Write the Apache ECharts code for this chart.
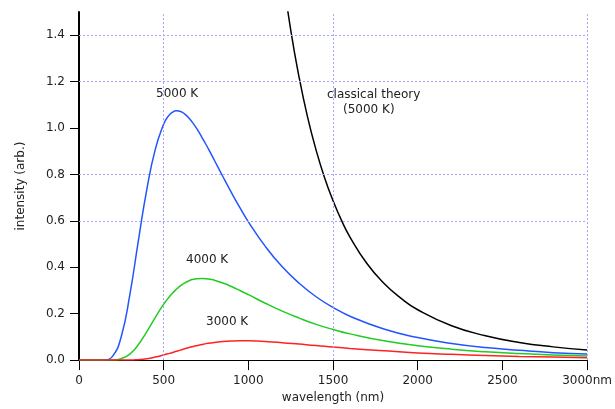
<!DOCTYPE html>
<html>
<head>
<meta charset="utf-8">
<script src="https://cdn.jsdelivr.net/npm/echarts@6/dist/echarts.min.js"></script>
<style>
  html, body { margin: 0; padding: 0; background: #fff; }
</style>
</head>
<body>
<div id="chart" style="width: 615px; height: 409px;"></div>
<script>
// wavelength (nm) for the three blackbody curves
const wavelengths = [0, 100, 150, 200, 250, 300, 350, 400, 450, 500, 525, 550, 575, 600, 625, 650, 675, 700, 725, 750, 775, 800,
  850, 900, 950, 1000, 1100, 1200, 1300, 1400, 1500, 1600, 1800, 2000, 2200, 2400, 2600, 2800, 3000];

const intensity5000 = [0, 0, 0.001, 0.018, 0.103, 0.281, 0.512, 0.734, 0.907, 1.017, 1.049, 1.067, 1.074, 1.071, 1.060, 1.042, 1.019, 0.992, 0.961, 0.929, 0.895, 0.860,
  0.790, 0.722, 0.657, 0.596, 0.490, 0.402, 0.331, 0.273, 0.227, 0.189, 0.134, 0.097, 0.072, 0.054, 0.042, 0.032, 0.026];

const intensity4000 = [0, 0, 0, 0, 0.006, 0.026, 0.066, 0.122, 0.183, 0.241, 0.265, 0.287, 0.305, 0.321, 0.333, 0.342, 0.348, 0.351, 0.352, 0.351, 0.348, 0.344,
  0.332, 0.317, 0.300, 0.282, 0.245, 0.211, 0.181, 0.154, 0.132, 0.113, 0.083, 0.062, 0.047, 0.036, 0.028, 0.022, 0.018];

const intensity3000 = [0, 0, 0, 0, 0, 0, 0.002, 0.006, 0.013, 0.022, 0.027, 0.032, 0.038, 0.043, 0.049, 0.054, 0.059, 0.063, 0.067, 0.071, 0.074, 0.076,
  0.080, 0.0825, 0.0835, 0.083, 0.080, 0.075, 0.069, 0.063, 0.056, 0.050, 0.040, 0.031, 0.025, 0.020, 0.016, 0.013, 0.010];

// classical theory (5000 K)
const classicalWavelengths = [1200, 1250, 1300, 1350, 1400, 1450, 1500, 1550, 1600, 1700, 1800, 1900, 2000, 2200, 2400, 2600, 2800, 3000];
const classicalIntensity = [1.676, 1.423, 1.217, 1.046, 0.905, 0.786, 0.687, 0.602, 0.530, 0.416, 0.331, 0.267, 0.217, 0.148, 0.105, 0.076, 0.057, 0.043];

const yTicks = [0, 0.2, 0.4, 0.6, 0.8, 1.0, 1.2, 1.4];
const yGridLines = [0.6, 0.8, 1.2, 1.4];
const xGridLines = [500, 1500, 3000];

function pairs(xs, ys) {
  let out = [];
  for (let i = 0; i < xs.length; i++) {
    out.push([xs[i], ys[i]]);
  }
  return out;
}

const chart = echarts.init(document.getElementById('chart'));
const font = 'DejaVu Sans';
const textColor = '#222';

const option = {
  animation: false,
  grid: {left: 79, right: 25, top: 12, bottom: 48},
  xAxis: {
    type: 'value',
    min: 0,
    max: 3000,
    interval: 500,
    name: 'wavelength (nm)',
    nameLocation: 'middle',
    nameGap: 31,
    nameTextStyle: {fontFamily: font, fontSize: 12, color: textColor},
    axisLine: {lineStyle: {color: '#000', width: 1}},
    axisTick: {length: 10, lineStyle: {color: '#000', width: 1}},
    axisLabel: {
      margin: 15,
      fontFamily: font,
      fontSize: 12,
      color: textColor,
      formatter: v => v === 3000 ? '3000nm' : String(v)
    },
    splitLine: {show: false}
  },
  yAxis: {
    type: 'value',
    min: 0,
    max: 1.5,
    interval: 0.2,
    name: 'intensity (arb.)',
    nameLocation: 'middle',
    nameGap: 52,
    nameTextStyle: {fontFamily: font, fontSize: 12, color: textColor},
    axisLine: {show: true, lineStyle: {color: '#000', width: 2}},
    axisTick: {show: true, length: 9, customValues: yTicks, lineStyle: {color: '#000', width: 1}},
    axisLabel: {
      margin: 14,
      fontFamily: font,
      fontSize: 12,
      color: textColor,
      customValues: yTicks,
      formatter: v => v.toFixed(1)
    },
    splitLine: {show: false}
  },
  graphic: [
    {type: 'text', left: 156, top: 88, style: {text: '5000 K', font: '12px DejaVu Sans', fill: textColor}},
    {type: 'text', left: 186, top: 254, style: {text: '4000 K', font: '12px DejaVu Sans', fill: textColor}},
    {type: 'text', left: 206, top: 316, style: {text: '3000 K', font: '12px DejaVu Sans', fill: textColor}},
    {type: 'text', left: 327, top: 89, style: {text: 'classical theory', font: '12px DejaVu Sans', fill: textColor}},
    {type: 'text', left: 343, top: 104, style: {text: '(5000 K)', font: '12px DejaVu Sans', fill: textColor}}
  ],
  series: [
    {
      name: 'grid',
      type: 'line',
      data: [],
      silent: true,
      markLine: {
        silent: true,
        symbol: 'none',
        label: {show: false},
        emphasis: {disabled: true},
        lineStyle: {color: '#a0a4ff', type: [2, 2], width: 1, opacity: 1},
        data: yGridLines.map(v => ({yAxis: v})).concat(xGridLines.map(v => ({xAxis: v})))
      }
    },
    {
      name: 'classical theory',
      type: 'line',
      data: pairs(classicalWavelengths, classicalIntensity),
      smooth: true,
      showSymbol: false,
      clip: true,
      lineStyle: {color: '#000', width: 1.5}
    },
    {
      name: '5000 K',
      type: 'line',
      data: pairs(wavelengths, intensity5000),
      smooth: true,
      showSymbol: false,
      lineStyle: {color: '#2255ff', width: 1.5}
    },
    {
      name: '4000 K',
      type: 'line',
      data: pairs(wavelengths, intensity4000),
      smooth: true,
      showSymbol: false,
      lineStyle: {color: '#22cc22', width: 1.5}
    },
    {
      name: '3000 K',
      type: 'line',
      data: pairs(wavelengths, intensity3000),
      smooth: true,
      showSymbol: false,
      lineStyle: {color: '#ff2222', width: 1.5}
    }
  ]
};

chart.setOption(option);
</script>
</body>
</html>
